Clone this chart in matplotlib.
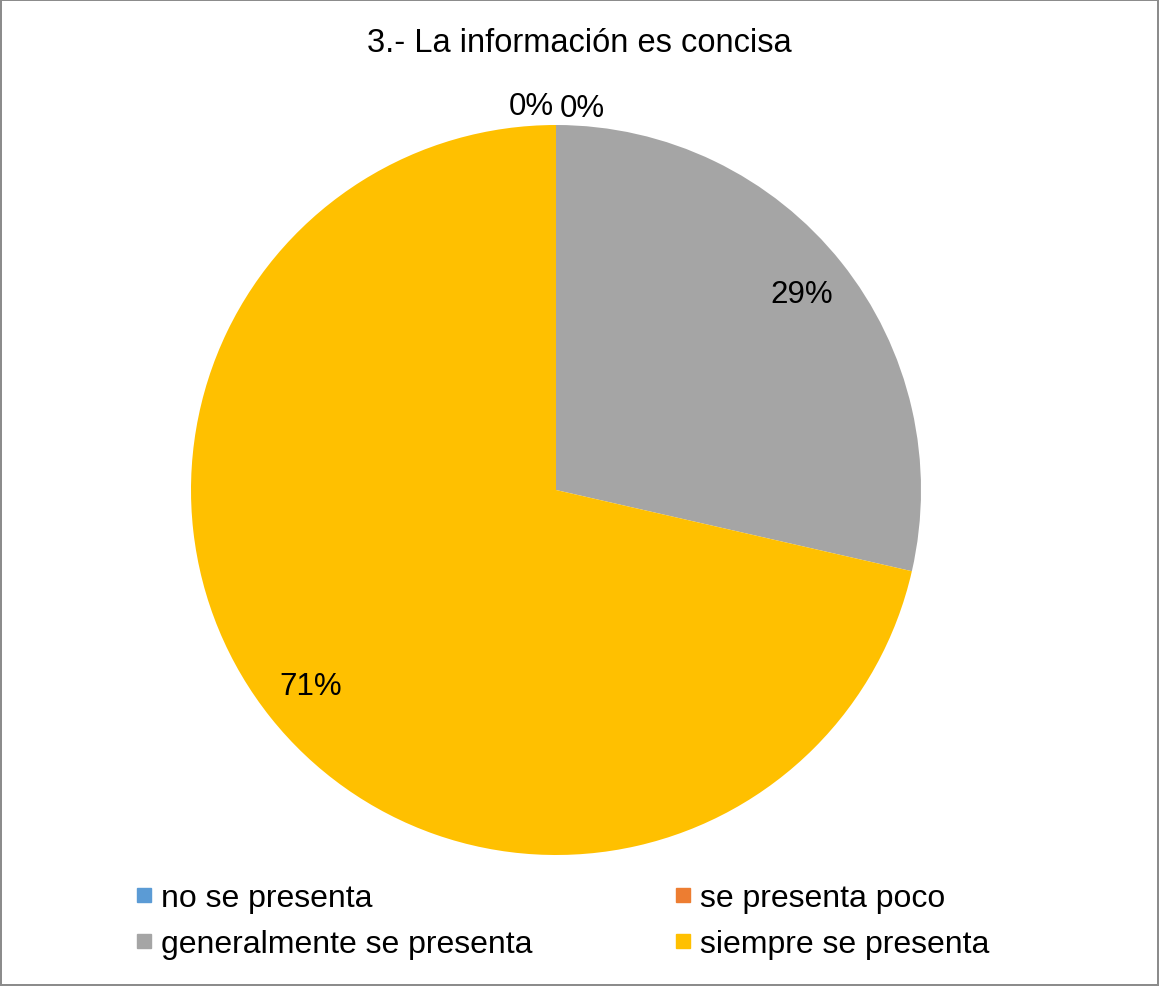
import matplotlib
matplotlib.use("Agg")
import matplotlib.pyplot as plt
from matplotlib.lines import Line2D

plt.rcParams['font.family'] = ['Liberation Sans', 'DejaVu Sans']

# datos de la pregunta 3
categorias = ["no se presenta", "se presenta poco",
              "generalmente se presenta", "siempre se presenta"]
respuestas = [0, 0, 2, 5]
colores = ["#5B9BD5", "#ED7D31", "#A5A5A5", "#FFC000"]
titulo = "3.- La información es concisa"

fig = plt.figure(figsize=(11.59, 9.87), dpi=100)
fig.patch.set_edgecolor("#8c8c8c")
fig.patch.set_linewidth(1.5)

ax = fig.add_axes([191 / 1159, 131 / 987, 730 / 1159, 730 / 987])
wedges, etiquetas, textos = ax.pie(respuestas, colors=colores, startangle=90,
                                   counterclock=False, radius=1,
                                   autopct=lambda p: f"{p:.0f}%", pctdistance=0.86,
                                   textprops={'fontsize': 22.5, 'color': 'black'})
ax.set_xlim(-1, 1)
ax.set_ylim(-1, 1)
ax.set_aspect('equal')
ax.axis('off')

# las porciones en cero se rotulan fuera del círculo, una a cada lado
ceros = [t for t, v in zip(textos, respuestas) if v == 0]
for i, t in enumerate(ceros):
    if i == 0:
        t.set_position((-0.005, 1.052))
        t.set_ha('right')
    else:
        t.set_position((0.01, 1.046))
        t.set_ha('left')

fig.suptitle(titulo, fontsize=23.5, y=0.972)

manijas = [Line2D([], [], linestyle='none', marker='s', markersize=10,
                  markerfacecolor=c, markeredgecolor=c) for c in colores]
orden = [0, 2, 1, 3]
fig.legend([manijas[i] for i in orden], [categorias[i] for i in orden],
           ncol=2, loc='upper left', bbox_to_anchor=(121 / 1159, 1 - 868 / 987),
           frameon=False, fontsize=23, handlelength=0.45, handletextpad=0.3,
           columnspacing=4.5, labelspacing=0.5, borderpad=0)

fig.savefig("out.png", dpi=100)
